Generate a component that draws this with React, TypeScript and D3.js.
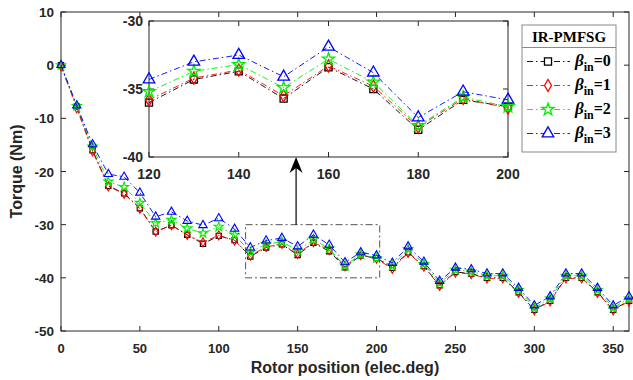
import React from "react";
import * as d3 from "d3";

const degrees = [0, 10, 20, 30, 40, 50, 60, 70, 80, 90, 100, 110, 120, 130, 140, 150, 160, 170, 180, 190, 200, 210, 220, 230, 240, 250, 260, 270, 280, 290, 300, 310, 320, 330, 340, 350, 360];

const beta0 = [0, -7.8, -16.0, -22.7, -24.1, -26.9, -31.3, -30.1, -31.9, -33.6, -32.1, -32.9, -36.0, -34.3, -33.7, -35.7, -33.4, -35.0, -38.0, -35.8, -36.3, -38.1, -35.2, -37.8, -41.4, -38.9, -39.2, -40.0, -40.0, -42.7, -46.0, -44.3, -40.0, -40.0, -42.7, -46.0, -44.3];
const beta1 = [-0.2, -8.1, -16.2, -22.8, -24.2, -27.0, -31.3, -30.1, -31.9, -33.3, -32.0, -33.0, -35.8, -34.2, -33.6, -35.5, -33.3, -34.8, -37.8, -35.7, -36.4, -38.3, -35.3, -37.9, -41.5, -39.0, -39.3, -40.1, -40.1, -42.8, -46.1, -44.4, -40.1, -40.1, -42.8, -46.1, -44.4];
const beta2 = [0, -7.7, -15.3, -21.9, -22.9, -25.9, -29.7, -29.1, -30.7, -31.6, -30.4, -31.9, -35.2, -33.7, -33.2, -34.9, -32.8, -34.5, -37.7, -35.6, -36.3, -37.7, -34.6, -37.4, -41.0, -38.5, -38.8, -39.6, -39.6, -42.3, -45.6, -43.9, -39.6, -39.6, -42.3, -45.6, -43.9];
const beta3 = [0, -7.6, -14.9, -20.5, -21.0, -24.0, -28.5, -27.6, -29.3, -30.1, -28.8, -30.8, -34.3, -33.0, -32.5, -34.1, -31.9, -33.8, -37.1, -35.2, -35.8, -37.2, -34.1, -37.0, -40.6, -38.1, -38.4, -39.2, -39.2, -41.9, -45.2, -43.5, -39.2, -39.2, -41.9, -45.2, -43.5];

const xTicks = [0, 50, 100, 150, 200, 250, 300, 350];
const yTicks = [10, 0, -10, -20, -30, -40, -50];
const insetXTicks = [120, 140, 160, 180, 200];
const insetYTicks = [-30, -35, -40];
const legendTitle = "IR-PMFSG";
const legendValues = ["0", "1", "2", "3"];
const xLabel = "Rotor position (elec.deg)";
const yLabel = "Torque (Nm)";

const series = [
  { values: beta0, color: "#000000", symbol: d3.symbolSquare, main: 28, inset: 50, fill: "none" },
  { values: beta1, color: "#ff0000", symbol: d3.symbolDiamond, main: 24, inset: 42, fill: "none" },
  { values: beta2, color: "#00ee00", symbol: d3.symbolStar, main: 26, inset: 46, fill: "none" },
  { values: beta3, color: "#0000ff", symbol: d3.symbolTriangle, main: 30, inset: 58, fill: "none" },
];

const TXT = "#262626";
const SANS = "'Liberation Sans', Arial, Helvetica, sans-serif";
const SERIF = "'Liberation Serif', 'Times New Roman', serif";
const DASH = "6,3,1.5,3";

export default function App() {
  const W = 633, H = 380;
  const x = d3.scaleLinear().domain([0, 360]).range([61, 629]);
  const y = d3.scaleLinear().domain([-50, 10]).range([331, 12]);
  const ix = d3.scaleLinear().domain([120, 200]).range([149, 508]);
  const iy = d3.scaleLinear().domain([-40, -30]).range([157, 21]);

  const mainLine = (vals: number[]) =>
    d3.line<number>().x((_, i) => x(degrees[i])).y((v) => y(v))(vals) || "";
  const insetIdx = degrees.map((d, i) => i).filter((i) => degrees[i] >= 120 && degrees[i] <= 200);
  const insetLine = (vals: number[]) =>
    d3.line<number>().x((i) => ix(degrees[i])).y((i) => iy(vals[i]))(insetIdx) || "";

  const tick = 5;
  const [x0, x1] = x.range();
  const [yb, yt] = y.range();
  const [ix0, ix1] = ix.range();
  const [iyb, iyt] = iy.range();

  const boxL = x(117), boxR = x(202), boxT = y(-30), boxB = y(-40);
  const arrowX = x(149);

  const lgL = 522, lgR = 616, lgT = 25, lgB = 152;
  const rows = [61.5, 85.5, 109.5, 133.5];

  return (
    <svg width={W} height={H} style={{ position: "absolute", left: 0, top: 0, background: "#fff" }}>
      <rect x={0} y={0} width={W} height={H} fill="#fff" />
      <rect x={x0} y={yt} width={x1 - x0} height={yb - yt} fill="#fff" stroke="#262626" strokeWidth={1} />
      {xTicks.map((t) => (
        <g key={"xt" + t}>
          <line x1={x(t)} x2={x(t)} y1={yb} y2={yb - tick} stroke="#262626" />
          <line x1={x(t)} x2={x(t)} y1={yt} y2={yt + tick} stroke="#262626" />
          <text x={x(t)} y={353} textAnchor="middle" fontFamily={SANS} fontWeight="bold" fontSize={13} fill={TXT}>{t}</text>
        </g>
      ))}
      {yTicks.map((t) => (
        <g key={"yt" + t}>
          <line x1={x0} x2={x0 + tick} y1={y(t)} y2={y(t)} stroke="#262626" />
          <line x1={x1} x2={x1 - tick} y1={y(t)} y2={y(t)} stroke="#262626" />
          <text x={x0 - 7} y={y(t) + 5} textAnchor="end" fontFamily={SANS} fontWeight="bold" fontSize={13.5} fill={TXT}>{t}</text>
        </g>
      ))}
      <text x={(x0 + x1) / 2} y={372.5} textAnchor="middle" fontFamily={SANS} fontWeight="bold" fontSize={16} fill={TXT}>{xLabel}</text>
      <text transform={`translate(22,${(yt + yb) / 2}) rotate(-90)`} textAnchor="middle" fontFamily={SANS} fontWeight="bold" fontSize={16} fill={TXT}>{yLabel}</text>

      {series.map((s, k) => (
        <g key={"s" + k}>
          <path d={mainLine(s.values)} fill="none" stroke={s.color} strokeWidth={0.9} strokeDasharray={DASH} />
          {s.values.map((v, i) => (
            <path key={i} transform={`translate(${x(degrees[i])},${y(v)})`} d={d3.symbol().type(s.symbol).size(s.main)() || ""} fill={s.fill} stroke={s.color} strokeWidth={1.1} />
          ))}
        </g>
      ))}

      <rect x={boxL} y={boxT} width={boxR - boxL} height={boxB - boxT} fill="none" stroke="#555" strokeWidth={1} strokeDasharray="7,3,2,3" />
      <line x1={arrowX} x2={arrowX} y1={boxT} y2={iyb + 10} stroke="#000" strokeWidth={1.2} />
      <path d={`M${arrowX},${iyb} L${arrowX - 6.5},${iyb + 16} L${arrowX},${iyb + 11} L${arrowX + 6.5},${iyb + 16} Z`} fill="#000" />

      <rect x={ix0} y={iyt} width={ix1 - ix0} height={iyb - iyt} fill="#fff" stroke="#262626" strokeWidth={1} />
      {insetXTicks.map((t) => (
        <g key={"ixt" + t}>
          <line x1={ix(t)} x2={ix(t)} y1={iyb} y2={iyb - tick} stroke="#262626" />
          <line x1={ix(t)} x2={ix(t)} y1={iyt} y2={iyt + tick} stroke="#262626" />
          <text x={ix(t)} y={iyb + 22} textAnchor="middle" fontFamily={SANS} fontWeight="bold" fontSize={14} fill={TXT}>{t}</text>
        </g>
      ))}
      {insetYTicks.map((t) => (
        <g key={"iyt" + t}>
          <line x1={ix0} x2={ix0 + tick} y1={iy(t)} y2={iy(t)} stroke="#262626" />
          <line x1={ix1} x2={ix1 - tick} y1={iy(t)} y2={iy(t)} stroke="#262626" />
          <text x={ix0 - 6} y={iy(t) + 5} textAnchor="end" fontFamily={SANS} fontWeight="bold" fontSize={14} fill={TXT}>{t}</text>
        </g>
      ))}
      {series.map((s, k) => (
        <g key={"is" + k}>
          <path d={insetLine(s.values)} fill="none" stroke={s.color} strokeWidth={0.9} strokeDasharray={DASH} />
          {insetIdx.map((i) => (
            <path key={i} transform={`translate(${ix(degrees[i])},${iy(s.values[i])})`} d={d3.symbol().type(s.symbol).size(s.inset)() || ""} fill={s.fill} stroke={s.color} strokeWidth={1.3} />
          ))}
        </g>
      ))}

      <rect x={lgL} y={lgT} width={lgR - lgL} height={lgB - lgT} fill="#fff" stroke="#8a8a8a" strokeWidth={1} />
      <text x={(lgL + lgR) / 2} y={42} textAnchor="middle" fontFamily={SERIF} fontWeight="bold" fontSize={15} fill="#000">{legendTitle}</text>
      <line x1={lgL} x2={lgR} y1={47.5} y2={47.5} stroke="#8a8a8a" strokeWidth={1} />
      {series.map((s, k) => (
        <g key={"lg" + k}>
          <line x1={527} x2={570} y1={rows[k]} y2={rows[k]} stroke={s.color} strokeWidth={0.9} strokeDasharray={DASH} />
          <path transform={`translate(548,${rows[k]})`} d={d3.symbol().type(s.symbol).size(s.inset)() || ""} fill="#fff" stroke={s.color} strokeWidth={1.3} />
          <text x={575} y={rows[k] + 4} fontFamily={SERIF} fontWeight="bold" fontSize={17} fill="#000">
            <tspan fontStyle="italic">β</tspan>
            <tspan fontSize={12} dy={5}>in</tspan>
            <tspan fontSize={16} dy={-5}>={legendValues[k]}</tspan>
          </text>
        </g>
      ))}
    </svg>
  );
}
